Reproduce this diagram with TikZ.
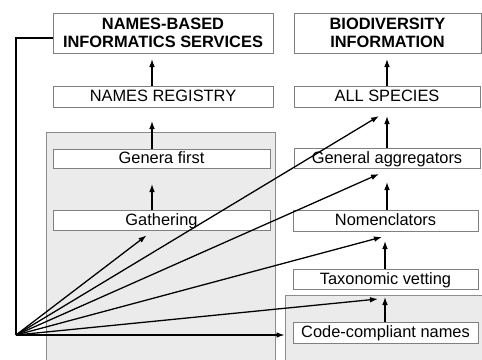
\documentclass[tikz,border=0pt]{standalone}
\usepackage{fontspec}
\setmainfont{Liberation Sans}
\usetikzlibrary{arrows.meta,calc}
\begin{document}
\begin{tikzpicture}
[x=0.3mm, y=-0.3mm,
 frame/.style={draw=black!50, line width=0.8pt, fill=white, inner sep=0pt, font=\fontsize{14}{15.5}\selectfont},
 box/.style={frame, text height=11pt, text depth=2pt},
 title/.style={frame, align=center, font=\fontsize{14}{15.5}\selectfont\bfseries},
 arr/.style={line width=1.1pt, -{Latex[length=2.4mm,width=1.7mm]}},
 shade/.style={fill=black!8},
 rim/.style={draw=black!45, line width=0.8pt}]
\useasboundingbox (0,0) rectangle (482,360);
% shaded areas
\fill[shade] (46,132) rectangle (275,360);
\draw[rim] (46,360) |- (275,132) -- (275,360);
\fill[shade] (285,295) rectangle (482,360);
\draw[rim] (285,360) |- (482,295);
% left column
\node[title, minimum width=66mm, minimum height=12mm] (names) at (163,33) {NAMES-BASED\\INFORMATICS SERVICES};
\node[box, minimum width=66mm, minimum height=6.3mm] (registry) at (163,96.5) {NAMES REGISTRY};
\node[box, minimum width=65.1mm, minimum height=5.7mm] (genera) at (161.5,158.5) {Genera first};
\node[box, minimum width=65.1mm, minimum height=6mm] (gathering) at (161.5,220) {Gathering};
% right column
\node[title, minimum width=56.1mm, minimum height=12mm] (biodiv) at (387.5,33) {BIODIVERSITY\\INFORMATION};
\node[box, minimum width=55.8mm, minimum height=6.3mm] (allspecies) at (387,96.5) {ALL SPECIES};
\node[box, minimum width=55.8mm, minimum height=6mm] (aggregators) at (387,158) {General aggregators};
\node[box, minimum width=55.5mm, minimum height=6.3mm] (nomencl) at (385.5,220.5) {Nomenclators};
\node[box, minimum width=55.5mm, minimum height=6mm] (vetting) at (385.5,279) {Taxonomic vetting};
\node[box, minimum width=55.5mm, minimum height=6.3mm] (codenames) at (385.5,332.5) {Code-compliant names};
% arrow ends
\coordinate (src) at (16,335);
\coordinate (tNames) at (152,59);
\coordinate (tReg) at (152,121);
\coordinate (tGen) at (152,184);
\coordinate (tBio) at (387,59);
\coordinate (tAll) at (387,116);
\coordinate (tAgg) at (387,182);
\coordinate (tNom) at (385,241);
\coordinate (tVet) at (385,297);
% upward arrows
\draw[arr] (registry.north -| tNames) -- (tNames);
\draw[arr] (genera.north -| tReg) -- (tReg);
\draw[arr] (gathering.north -| tGen) -- (tGen);
\draw[arr] (allspecies.north -| tBio) -- (tBio);
\draw[arr] (aggregators.north -| tAll) -- (tAll);
\draw[arr] (nomencl.north -| tAgg) -- (tAgg);
\draw[arr] (vetting.north -| tNom) -- (tNom);
\draw[arr] (codenames.north -| tVet) -- (tVet);
% fan from the corner
\draw[line width=1.1pt] (src) |- ($(names.west)+(0,5)$);
\draw[arr] (src) -- ($(gathering.south)+(-15,5)$);
\draw[arr] (src) -- ($(tAll)+(-8,0)$);
\draw[arr] (src) -- ($(tAgg)+(-8,-8)$);
\draw[arr] (src) -- ($(tNom)+(-3,-4)$);
\draw[arr] (src) -- ($(tVet)+(-7,2)$);
\draw[arr] (src) -- ($(src -| codenames.west)+(-8,0)$);
\end{tikzpicture}
\end{document}
